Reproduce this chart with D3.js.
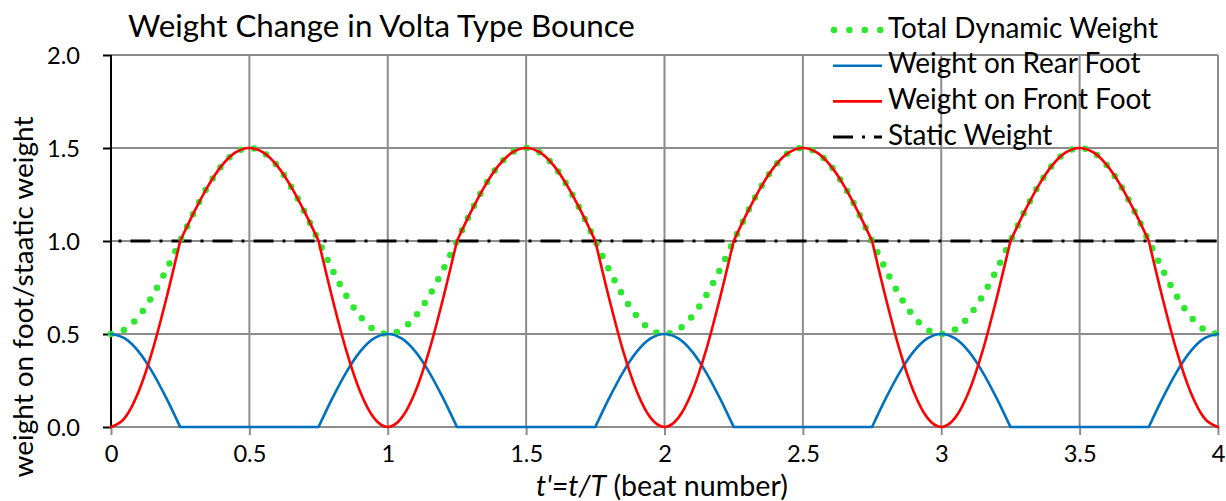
<!DOCTYPE html>
<html>
<head>
<meta charset="utf-8">
<script src="https://cdn.jsdelivr.net/npm/d3@7"></script>
<style>
  html, body { margin: 0; padding: 0; background: #fff; }
  svg { display: block; font-family: Lato, "Open Sans", sans-serif; }
</style>
</head>
<body>
<svg id="chart" width="1226" height="501"></svg>
<script>
// t' = t/T, sampled every 0.05 beat
const beats = [
  0, 0.05, 0.1, 0.15, 0.2, 0.25, 0.3, 0.35, 0.4, 0.45,
  0.5, 0.55, 0.6, 0.65, 0.7, 0.75, 0.8, 0.85, 0.9, 0.95,
  1, 1.05, 1.1, 1.15, 1.2, 1.25, 1.3, 1.35, 1.4, 1.45,
  1.5, 1.55, 1.6, 1.65, 1.7, 1.75, 1.8, 1.85, 1.9, 1.95,
  2, 2.05, 2.1, 2.15, 2.2, 2.25, 2.3, 2.35, 2.4, 2.45,
  2.5, 2.55, 2.6, 2.65, 2.7, 2.75, 2.8, 2.85, 2.9, 2.95,
  3, 3.05, 3.1, 3.15, 3.2, 3.25, 3.3, 3.35, 3.4, 3.45,
  3.5, 3.55, 3.6, 3.65, 3.7, 3.75, 3.8, 3.85, 3.9, 3.95,
  4
];

const totalWeight = [
  0.5, 0.524, 0.595, 0.706, 0.845, 1.0, 1.155, 1.294, 1.405, 1.476,
  1.5, 1.476, 1.405, 1.294, 1.155, 1.0, 0.845, 0.706, 0.595, 0.524,
  0.5, 0.524, 0.595, 0.706, 0.845, 1.0, 1.155, 1.294, 1.405, 1.476,
  1.5, 1.476, 1.405, 1.294, 1.155, 1.0, 0.845, 0.706, 0.595, 0.524,
  0.5, 0.524, 0.595, 0.706, 0.845, 1.0, 1.155, 1.294, 1.405, 1.476,
  1.5, 1.476, 1.405, 1.294, 1.155, 1.0, 0.845, 0.706, 0.595, 0.524,
  0.5, 0.524, 0.595, 0.706, 0.845, 1.0, 1.155, 1.294, 1.405, 1.476,
  1.5, 1.476, 1.405, 1.294, 1.155, 1.0, 0.845, 0.706, 0.595, 0.524,
  0.5
];

const rearFoot = [
  0.5, 0.476, 0.405, 0.294, 0.155, 0, 0, 0, 0, 0,
  0, 0, 0, 0, 0, 0, 0.155, 0.294, 0.405, 0.476,
  0.5, 0.476, 0.405, 0.294, 0.155, 0, 0, 0, 0, 0,
  0, 0, 0, 0, 0, 0, 0.155, 0.294, 0.405, 0.476,
  0.5, 0.476, 0.405, 0.294, 0.155, 0, 0, 0, 0, 0,
  0, 0, 0, 0, 0, 0, 0.155, 0.294, 0.405, 0.476,
  0.5, 0.476, 0.405, 0.294, 0.155, 0, 0, 0, 0, 0,
  0, 0, 0, 0, 0, 0, 0.155, 0.294, 0.405, 0.476,
  0.5
];

const frontFoot = [
  0, 0.049, 0.191, 0.412, 0.691, 1.0, 1.155, 1.294, 1.405, 1.476,
  1.5, 1.476, 1.405, 1.294, 1.155, 1.0, 0.691, 0.412, 0.191, 0.049,
  0, 0.049, 0.191, 0.412, 0.691, 1.0, 1.155, 1.294, 1.405, 1.476,
  1.5, 1.476, 1.405, 1.294, 1.155, 1.0, 0.691, 0.412, 0.191, 0.049,
  0, 0.049, 0.191, 0.412, 0.691, 1.0, 1.155, 1.294, 1.405, 1.476,
  1.5, 1.476, 1.405, 1.294, 1.155, 1.0, 0.691, 0.412, 0.191, 0.049,
  0, 0.049, 0.191, 0.412, 0.691, 1.0, 1.155, 1.294, 1.405, 1.476,
  1.5, 1.476, 1.405, 1.294, 1.155, 1.0, 0.691, 0.412, 0.191, 0.049,
  0
];

const staticBeats = [0, 4];
const staticWeight = [1, 1];

const xTicks = [0, 0.5, 1, 1.5, 2, 2.5, 3, 3.5, 4];
const yTicks = [0, 0.5, 1, 1.5, 2];

const seriesNames = ['Total Dynamic Weight', 'Weight on Rear Foot', 'Weight on Front Foot', 'Static Weight'];

const colors = {
  total: '#2ee82e',
  rear: '#0070c0',
  front: '#ff0000',
  stat: '#000000',
  grid: '#8c8c8c'
};

const svg = d3.select('#chart');

const x = d3.scaleLinear().domain([0, 4]).range([111, 1218]);
const y = d3.scaleLinear().domain([0, 2]).range([427, 55]);

// shrink / grow a text so its width matches the reference
const fitText = (sel, target) => {
  const w = sel.node().getComputedTextLength();
  const fs = parseFloat(sel.attr('font-size'));
  sel.attr('font-size', fs * target / w);
  return fs * target / w;
};

// Gridlines
const grid = svg.append('g').attr('class', 'grid');

grid.selectAll('line.h')
  .data(yTicks)
  .join('line')
  .attr('class', 'h')
  .attr('x1', x(0)).attr('x2', x(4))
  .attr('y1', d => y(d)).attr('y2', d => y(d))
  .attr('stroke', colors.grid)
  .attr('stroke-width', 2);

grid.selectAll('line.v')
  .data(xTicks.filter(d => d > 0))
  .join('line')
  .attr('class', 'v')
  .attr('x1', d => x(d)).attr('x2', d => x(d))
  .attr('y1', y(2)).attr('y2', y(0))
  .attr('stroke', colors.grid)
  .attr('stroke-width', 2);

// X axis ticks (gray, pointing down)
const xAxis = svg.append('g')
  .attr('transform', `translate(0, ${y(0)})`)
  .call(d3.axisBottom(x).tickValues(xTicks).tickSize(8).tickFormat(d3.format('')));

xAxis.select('.domain').remove();
xAxis.selectAll('.tick line').attr('stroke', colors.grid).attr('stroke-width', 2);
xAxis.selectAll('.tick text')
  .attr('y', 35)
  .attr('dy', 0)
  .attr('fill', '#000')
  .attr('font-family', 'Lato, "Open Sans", sans-serif')
  .attr('font-size', 24);

// Y axis (black line, ticks pointing left)
const yAxis = svg.append('g')
  .attr('transform', `translate(${x(0)}, 0)`)
  .call(d3.axisLeft(y).tickValues(yTicks).tickSize(8).tickFormat(d3.format('.1f')));

yAxis.select('.domain')
  .attr('d', `M0,${y(2)}V${y(0)}`)
  .attr('stroke', '#000')
  .attr('stroke-width', 2);
yAxis.selectAll('.tick line').attr('stroke', '#000').attr('stroke-width', 2);
yAxis.selectAll('.tick text')
  .attr('x', -31)
  .attr('dy', '0.36em')
  .attr('fill', '#000')
  .attr('font-family', 'Lato, "Open Sans", sans-serif')
  .attr('font-size', 24);

const tickFs = fitText(yAxis.select('.tick:last-of-type text'), 33);
yAxis.selectAll('.tick text').attr('font-size', tickFs);
xAxis.selectAll('.tick text').attr('font-size', tickFs);

// Series lines
const line = d3.line()
  .x(d => x(d[0]))
  .y(d => y(d[1]))
  .curve(d3.curveMonotoneX);

const zip = (xs, ys) => xs.map((v, i) => [v, ys[i]]);

// The foot curves have corners where the rear foot leaves / touches the floor,
// so split them there and smooth each piece on its own
const kinks = rearFoot
  .map((v, i) => (v === 0 && (rearFoot[i - 1] > 0 || rearFoot[i + 1] > 0)) ? i : -1)
  .filter(i => i > 0);

const splitPath = (pts) => {
  const cuts = [0, ...kinks, pts.length - 1];
  let d = '';
  for (let k = 0; k < cuts.length - 1; k++) {
    d += line(pts.slice(cuts[k], cuts[k + 1] + 1));
  }
  return d;
};

const plot = svg.append('g').attr('class', 'series');

plot.append('path')
  .datum(zip(staticBeats, staticWeight))
  .attr('d', line)
  .attr('fill', 'none')
  .attr('stroke', colors.stat)
  .attr('stroke-width', 3)
  .attr('stroke-dasharray', '20,9,3,9')
  .attr('stroke-dashoffset', 21.5);

plot.append('path')
  .datum(zip(beats, totalWeight))
  .attr('d', line)
  .attr('fill', 'none')
  .attr('stroke', colors.total)
  .attr('stroke-width', 6.5)
  .attr('stroke-linecap', 'round')
  .attr('stroke-dasharray', '0,13.6');

plot.append('path')
  .attr('d', splitPath(zip(beats, rearFoot)))
  .attr('fill', 'none')
  .attr('stroke', colors.rear)
  .attr('stroke-linecap', 'round')
  .attr('stroke-width', 2.6);

plot.append('path')
  .attr('d', splitPath(zip(beats, frontFoot)))
  .attr('fill', 'none')
  .attr('stroke', colors.front)
  .attr('stroke-linecap', 'round')
  .attr('stroke-width', 2.6);

// Title
const title = svg.append('text')
  .attr('x', 128)
  .attr('y', 37)
  .attr('font-size', 30)
  .attr('fill', '#000')
  .text('Weight Change in Volta Type Bounce');
fitText(title, 507);

// Legend
const legendStyles = [
  { color: colors.total, width: 6.5, dash: '0,15.4', cap: 'round' },
  { color: colors.rear, width: 2.6, dash: null, cap: 'butt' },
  { color: colors.front, width: 2.6, dash: null, cap: 'butt' },
  { color: colors.stat, width: 3, dash: '20,9,3,9', cap: 'butt' }
];

const legend = svg.append('g').attr('class', 'legend');

const items = legend.selectAll('g.item')
  .data(seriesNames)
  .join('g')
  .attr('class', 'item')
  .attr('transform', (d, i) => `translate(0, ${30 + i * 35.7})`);

items.append('line')
  .attr('x1', (d, i) => i === 0 ? 834 : 833)
  .attr('x2', 882)
  .attr('y1', 0).attr('y2', 0)
  .attr('stroke', (d, i) => legendStyles[i].color)
  .attr('stroke-width', (d, i) => legendStyles[i].width)
  .attr('stroke-linecap', (d, i) => legendStyles[i].cap)
  .attr('stroke-dasharray', (d, i) => legendStyles[i].dash);

const legendTexts = items.append('text')
  .attr('x', 888)
  .attr('y', 7.5)
  .attr('font-size', 26)
  .attr('fill', '#000')
  .text(d => d);

const legFs = fitText(d3.select(legendTexts.nodes()[0]), 270);
legendTexts.attr('font-size', legFs);

// Axis titles
const xTitle = svg.append('text')
  .attr('x', 662)
  .attr('y', 495.5)
  .attr('text-anchor', 'middle')
  .attr('font-size', 24)
  .attr('fill', '#000');
xTitle.append('tspan').attr('font-style', 'italic').text("t'=t/T");
xTitle.append('tspan').text(' (beat number)');
fitText(xTitle, 252);

const yTitle = svg.append('text')
  .attr('transform', 'translate(33, 297) rotate(-90)')
  .attr('text-anchor', 'middle')
  .attr('font-size', 26)
  .attr('fill', '#000')
  .text('weight on foot/staatic weight');
fitText(yTitle, 361);
</script>
</body>
</html>
